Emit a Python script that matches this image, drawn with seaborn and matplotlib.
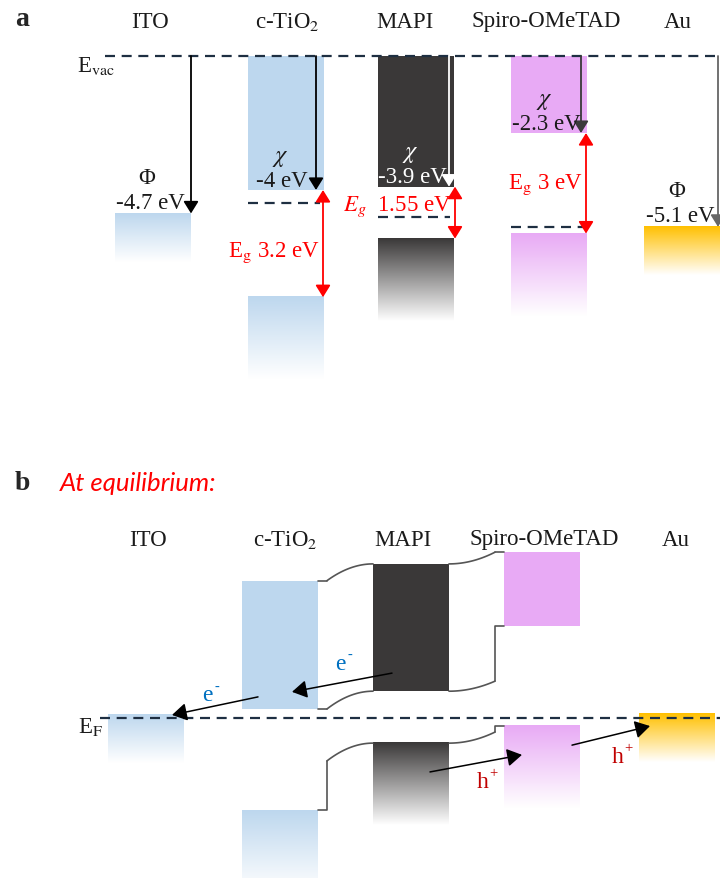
import numpy as np
import matplotlib
matplotlib.use("Agg")
import matplotlib.pyplot as plt
import seaborn as sns
from matplotlib.colors import to_rgb

sns.set_theme(style="white")
plt.rcParams["font.family"] = ["Liberation Serif", "DejaVu Serif"]
plt.rcParams["mathtext.fontset"] = "stix"

# ---------------- data ----------------
layers = ["ITO", "c-TiO$_2$", "MAPI", "Spiro-OMeTAD", "Au"]

# (a) isolated materials, energies relative to the vacuum level (eV)
work_function = [-4.7, None, None, None, -5.1]
electron_affinity = [None, -4.0, -3.9, -2.3, None]
band_gap = [None, 3.2, 1.55, 3.0, None]
fermi_level = [None, -4.4, -4.8, -5.1, None]

# (b) at equilibrium, energies relative to the common Fermi level (eV)
eq_metal_top = [0.1, None, None, None, 0.15]
eq_cb_top = [None, 4.1, 4.6, 4.95, None]
eq_cb = [None, 0.27, 0.8, 2.75, None]
eq_vb = [None, -2.75, -0.75, -0.25, None]
# band bending at the c-TiO2/MAPI and MAPI/Spiro interfaces
tio2_vb_bend = -1.28
mapi_cb_bend = 1.1
mapi_vb_bend = -0.42

# ---------------- style / layout ----------------
colors = ["#BDD7EE", "#BDD7EE", "#3A3838", "#E8AAF5", "#FFC000"]
dash_col = "#1E2F42"
red = "#FF0000"
edge = "#555555"
W_PX, H_PX = 720, 879
PX_PER_EV = 33.5
box_w = 76
left_a = [115, 248, 378, 511, 644]
left_b = [108, 242, 373, 504, 639]
label_x = [150, 287, 405, 546, 678]
metal_fade, semi_fade = 1.45, 2.45

fig = plt.figure(figsize=(W_PX / 100, H_PX / 100), dpi=100)
ax_a = fig.add_axes([0, 1 - 440 / H_PX, 1, 440 / H_PX])
ax_b = fig.add_axes([0, 0, 1, 439 / H_PX])
for ax in (ax_a, ax_b):
    ax.set_xlim(0, W_PX)
    ax.axis("off")
ax_a.set_ylim(-(440 - 57) / PX_PER_EV, 57 / PX_PER_EV)
ax_b.set_ylim(-(879 - 719) / PX_PER_EV, (719 - 440) / PX_PER_EV)

TXT = 16.5
INK = "#1a1a1a"


def ftext(x, y, s, **kw):
    fig.text(x / W_PX, 1 - y / H_PX, s, **kw)


def solid_box(ax, x0, top, bottom, color):
    ax.bar(x0, top - bottom, width=box_w, bottom=bottom, align="edge",
           color=color, edgecolor="none", zorder=1)


def fade_box(ax, x0, top, depth, color):
    c = np.array(to_rgb(color))
    t = np.linspace(0, 1, 256)[:, None, None]
    img = c[None, None, :] * (1 - t) + np.ones(3)[None, None, :] * t
    ax.imshow(img, extent=[x0, x0 + box_w, top - depth, top], origin="upper",
              aspect="auto", zorder=1, interpolation="bilinear")


def varrow(ax, x, y0, y1, color, style="-|>", lw=1.3, ms=16):
    ax.annotate("", xy=(x, y1), xytext=(x, y0),
                arrowprops=dict(arrowstyle=f"{style},head_length=0.45,head_width=0.28",
                                color=color, lw=lw, shrinkA=0, shrinkB=0,
                                mutation_scale=ms), zorder=5)


def darrow(ax, p0, p1, color="black"):
    ax.annotate("", xy=p1, xytext=p0,
                arrowprops=dict(arrowstyle="-|>,head_length=0.5,head_width=0.3",
                                color=color, lw=1.1, shrinkA=0, shrinkB=0,
                                mutation_scale=18), zorder=6)


def hdash(ax, x0, x1, y):
    ax.plot([x0, x1], [y, y], ls=(0, (4.5, 3)), lw=1.6, color=dash_col, zorder=4)


def carrier(ax, x, y, base, sup, color, size):
    ax.text(x, y, base, color=color, fontsize=size, ha="center", va="center", zorder=7)
    ax.annotate(sup, xy=(x, y), xytext=(10, 9), textcoords="offset pixels",
                color=color, fontsize=size * 0.62, ha="center", va="center", zorder=7)


# ================= panel a =================
ftext(15, 20, "a", fontsize=20, fontweight="bold", va="center")
for lx, name in zip(label_x, layers):
    ftext(lx, 22, name, fontsize=TXT, ha="center", va="center", color=INK)
ftext(77, 66, r"E$_{\mathrm{vac}}$", fontsize=TXT, va="center", color=INK)

hdash(ax_a, 105, 720, 0.0)

# metals
arrow_x_metal = {0: 191, 4: 718}
arrow_col_metal = {0: "black", 4: "#666666"}
text_x_metal = {0: 150, 4: 680}
for i in (0, 4):
    wf = work_function[i]
    fade_box(ax_a, left_a[i], wf, metal_fade, colors[i])
    varrow(ax_a, arrow_x_metal[i], 0.0, wf, arrow_col_metal[i])
    cx = text_x_metal[i]
    ax_a.annotate(f"{wf:g} eV", xy=(cx, wf), xytext=(0, 11), textcoords="offset pixels",
                  ha="center", va="center", fontsize=TXT, color=INK)
    ax_a.annotate("Φ", xy=(cx - 3, wf), xytext=(0, 36), textcoords="offset pixels",
                  ha="center", va="center", fontsize=TXT, color=INK)

# semiconductors
chi_arrow_x = {1: 316, 2: 449, 3: 581}
chi_arrow_col = {1: "black", 2: "white", 3: "#3a3a3a"}
chi_text_col = {1: INK, 2: "white", 3: INK}
val_x = {1: 282, 2: 412, 3: 546}
eg_x = {1: 323, 2: 455, 3: 586}
eg_label_y = {1: -5.85, 2: -4.48, 3: -3.82}
for i in (1, 2, 3):
    x0 = left_a[i]
    chi = electron_affinity[i]
    vb = chi - band_gap[i]
    solid_box(ax_a, x0, 0.0, chi, colors[i])
    fade_box(ax_a, x0, vb, semi_fade, colors[i])
    hdash(ax_a, x0, x0 + 72, fermi_level[i])
    varrow(ax_a, chi_arrow_x[i], 0.0, chi, chi_arrow_col[i])
    varrow(ax_a, eg_x[i], chi, vb, red, style="<|-|>", lw=1.3)
    ax_a.annotate(f"{chi:g} eV", xy=(val_x[i], chi), xytext=(0, 10),
                  textcoords="offset pixels", ha="center", va="center",
                  fontsize=TXT, color=chi_text_col[i], zorder=6)
    ax_a.annotate(r"$\chi$", xy=(val_x[i] - 2, chi), xytext=(0, 33),
                  textcoords="offset pixels", ha="center", va="center",
                  fontsize=TXT + 1, color=chi_text_col[i], zorder=6)
    eg = f"{band_gap[i]:g}"
    label = (r"$E_g$  " + eg + " eV") if i == 2 else (r"E$_{\mathrm{g}}$ " + eg + " eV")
    ax_a.text(eg_x[i] - 3, eg_label_y[i], label, ha="right", va="center",
              fontsize=TXT, color=red, zorder=6)

# ================= panel b =================
ftext(15, 484, "b", fontsize=20, fontweight="bold", va="center")
ftext(60, 484, "At equilibrium:", fontsize=18.5, color=red, va="center",
      family=["Lato", "DejaVu Sans"], style="italic")
for lx, name in zip(label_x, layers):
    ftext(lx - 2, 540, name, fontsize=TXT, ha="center", va="center", color=INK)
ftext(78, 727, r"E$_{\mathrm{F}}$", fontsize=TXT, va="center", color=INK)

for i in (0, 4):
    fade_box(ax_b, left_b[i], eq_metal_top[i], metal_fade, colors[i])
for i in (1, 2, 3):
    solid_box(ax_b, left_b[i], eq_cb_top[i], eq_cb[i], colors[i])
    fade_box(ax_b, left_b[i], eq_vb[i], semi_fade, colors[i])

hdash(ax_b, 100, 720, 0.0)


def bend(ax, xa, ya, xb, yb, steep_left=True):
    t = np.linspace(0, 1, 80)
    s = 1 - (1 - t) ** 2 if steep_left else t ** 2
    ax.plot(xa + (xb - xa) * t, ya + (yb - ya) * s, color=edge, lw=1.2, zorder=3)


def seg(ax, xs, ys):
    ax.plot(xs, ys, color=edge, lw=1.2, zorder=3)


# c-TiO2 / MAPI interface
xt, xm = left_b[1] + box_w, left_b[2]
xs = xt + 9
seg(ax_b, [xt, xs], [eq_cb_top[1]] * 2)
bend(ax_b, xs, eq_cb_top[1], xm, eq_cb_top[2])
seg(ax_b, [xt, xs], [eq_cb[1]] * 2)
bend(ax_b, xs, eq_cb[1], xm, eq_cb[2])
seg(ax_b, [xt, xs, xs], [eq_vb[1], eq_vb[1], tio2_vb_bend])
bend(ax_b, xs, tio2_vb_bend, xm, eq_vb[2])

# MAPI / Spiro-OMeTAD interface
xm2, xsp = left_b[2] + box_w, left_b[3]
xk = xsp - 9
bend(ax_b, xm2, eq_cb_top[2], xk, eq_cb_top[3], steep_left=False)
seg(ax_b, [xk, xsp], [eq_cb_top[3]] * 2)
bend(ax_b, xm2, eq_cb[2], xk, mapi_cb_bend, steep_left=False)
seg(ax_b, [xk, xk, xsp], [mapi_cb_bend, eq_cb[3], eq_cb[3]])
bend(ax_b, xm2, eq_vb[2], xk, mapi_vb_bend, steep_left=False)
seg(ax_b, [xk, xk, xsp], [mapi_vb_bend, eq_vb[3], eq_vb[3]])

# carrier transfer
darrow(ax_b, (392, 1.34), (292, 0.78))
darrow(ax_b, (258, 0.63), (172, 0.09))
darrow(ax_b, (430, -1.61), (522, -1.10))
darrow(ax_b, (572, -0.81), (650, -0.24))
blue_txt, hred = "#0070C0", "#C00000"
carrier(ax_b, 340, 1.64, "e", "-", blue_txt, 17)
carrier(ax_b, 207, 0.69, "e", "-", blue_txt, 17)
carrier(ax_b, 483, -1.91, "h", "+", hred, 17)
carrier(ax_b, 618, -1.16, "h", "+", hred, 17)

fig.savefig("out.png", dpi=100, facecolor="white")
